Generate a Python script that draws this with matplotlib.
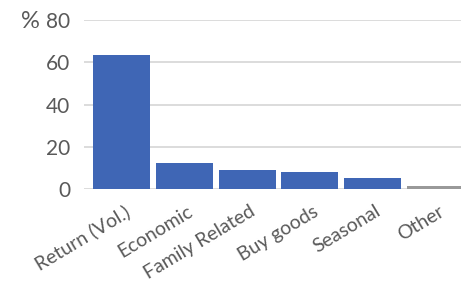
import matplotlib.pyplot as plt
import matplotlib.transforms as mtransforms

categories = ["Return (Vol.)", "Economic", "Family Related", "Buy goods", "Seasonal", "Other"]
values = [63.5, 12.4, 9.1, 8.1, 5.3, 1.5]
bar_colors = ["#3f66b5"] * 5 + ["#999999"]
yticks = [0, 20, 40, 60, 80]

plt.rcParams['font.family'] = ['Lato', 'DejaVu Sans']
text_color = "#595959"

fig = plt.figure(figsize=(4.61, 2.81), dpi=100)
ax = fig.add_axes([84 / 461, 1 - 189 / 281, (461 - 84) / 461, 169 / 281])

ax.bar(range(len(categories)), values, width=0.91, color=bar_colors, zorder=3)

ax.set_xlim(-0.6, 5.41)
ax.set_ylim(0, 80)
ax.set_yticks(yticks)
ax.set_xticks(range(len(categories)))
ax.set_xticklabels(categories, rotation=31, ha='right', va='center', rotation_mode='anchor')
ax.tick_params(axis='both', length=0, colors=text_color)
ax.tick_params(axis='y', pad=10, labelsize=15)
ax.tick_params(axis='x', pad=15, labelsize=14)
shift = mtransforms.ScaledTranslation(7 / 100, 0, fig.dpi_scale_trans)
for lbl in ax.get_xticklabels():
    lbl.set_transform(lbl.get_transform() + shift)
ax.grid(axis='y', color='#d9d9d9', linewidth=1.3, zorder=0)
for s in ax.spines.values():
    s.set_visible(False)

fig.text(21 / 461, 1 - 22 / 281, "%", fontsize=17, color=text_color, va='center')

fig.savefig("out.png", dpi=100)
